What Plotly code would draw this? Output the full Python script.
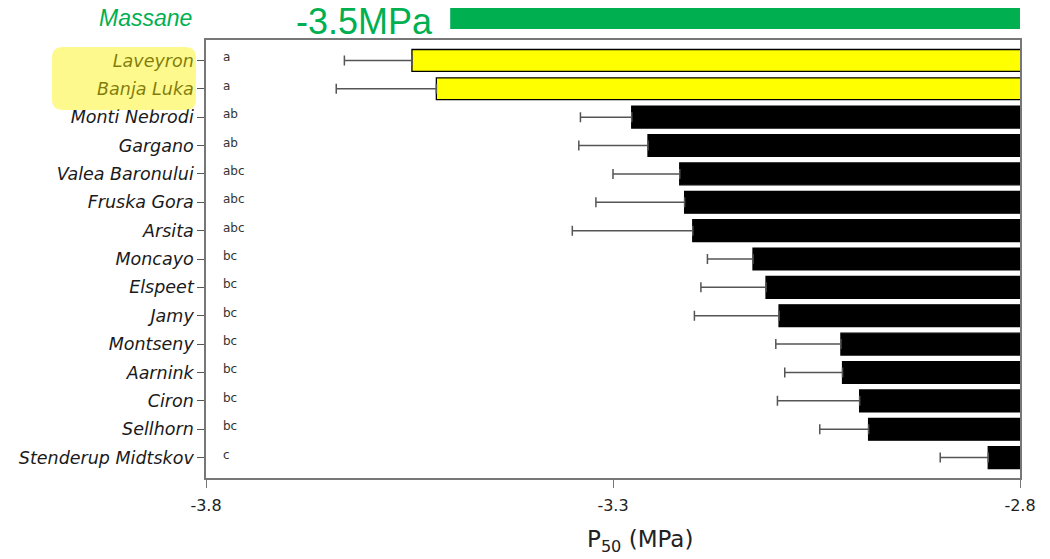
import plotly.graph_objects as go

# ---- data ----
populations = ["Laveyron", "Banja Luka", "Monti Nebrodi", "Gargano", "Valea Baronului",
               "Fruska Gora", "Arsita", "Moncayo", "Elspeet", "Jamy", "Montseny",
               "Aarnink", "Ciron", "Sellhorn", "Stenderup Midtskov"]
p50 = [-3.547, -3.517, -3.277, -3.257, -3.218, -3.212, -3.202, -3.128, -3.112,
       -3.096, -3.020, -3.018, -2.997, -2.986, -2.839]
p50_err = [0.083, 0.123, 0.063, 0.085, 0.082, 0.109, 0.148, 0.056, 0.080,
           0.104, 0.080, 0.071, 0.101, 0.060, 0.059]
groups = ["a", "a", "ab", "ab", "abc", "abc", "abc", "bc", "bc", "bc", "bc",
          "bc", "bc", "bc", "c"]
highlighted = ["Laveyron", "Banja Luka"]
massane_name = "Massane"
massane_p50 = -3.5
x_ticks = [-3.8, -3.3, -2.8]
x_ticklabels = ["-3.8", "-3.3", "-2.8"]

# ---- layout geometry (pixels) ----
W, H = 1050, 559
L, R, T, B = 206, 1020, 40, 478
pw, ph = R - L, B - T


def px(x):
    return (x - L) / pw


def py(y):
    return (B - y) / ph


colors = ["#FFFF00" if p in highlighted else "#000000" for p in populations]

fig = go.Figure()
fig.add_trace(go.Bar(
    y=populations, x=p50, orientation="h",
    marker=dict(color=colors, line=dict(color="#000000", width=1.3)),
    width=0.77,
    error_x=dict(type="data", symmetric=False, array=[0] * len(p50),
                 arrayminus=p50_err, color="#555555", thickness=1.5, width=5),
    showlegend=False,
))

annotations = []
for pop, g in zip(populations, groups):
    annotations.append(dict(x=-3.782, y=pop, xref="x", yref="y", text=g,
                            showarrow=False, xanchor="left", yanchor="middle",
                            yshift=3, font=dict(family="DejaVu Sans", size=12, color="#333333")))

annotations.append(dict(x=px(194), y=py(18), xref="paper", yref="paper",
                        text="<i>%s</i>" % massane_name, showarrow=False,
                        xanchor="right", yanchor="middle",
                        font=dict(family="Liberation Sans", size=23, color="#00B050")))
annotations.append(dict(x=px(434), y=py(0), xref="paper", yref="paper",
                        text="%sMPa" % massane_p50, showarrow=False,
                        xanchor="right", yanchor="top", borderpad=0,
                        font=dict(family="Liberation Sans", size=36, color="#00B050")))
annotations.append(dict(x=px(640), y=py(541), xref="paper", yref="paper",
                        text="P<sub>50</sub> (MPa)", showarrow=False,
                        xanchor="center", yanchor="middle",
                        font=dict(family="DejaVu Sans", size=23, color="#222222")))

# rounded highlight box over the highlighted labels
x0, x1, y0, y1, r = 52, 196, 47, 110, 11
path = (f"M {px(x0 + r)} {py(y0)} L {px(x1 - r)} {py(y0)} Q {px(x1)} {py(y0)} {px(x1)} {py(y0 + r)} "
        f"L {px(x1)} {py(y1 - r)} Q {px(x1)} {py(y1)} {px(x1 - r)} {py(y1)} "
        f"L {px(x0 + r)} {py(y1)} Q {px(x0)} {py(y1)} {px(x0)} {py(y1 - r)} "
        f"L {px(x0)} {py(y0 + r)} Q {px(x0)} {py(y0)} {px(x0 + r)} {py(y0)} Z")

shapes = [
    dict(type="path", path=path, xref="paper", yref="paper", layer="above",
         fillcolor="rgba(250,242,0,0.45)", line=dict(width=0)),
    dict(type="rect", xref="x", yref="paper", x0=massane_p50, x1=x_ticks[-1],
         y0=py(29), y1=py(8), fillcolor="#00B050", line=dict(width=0)),
]

fig.update_layout(
    width=W, height=H,
    margin=dict(l=L, r=W - R, t=T, b=H - B),
    paper_bgcolor="white", plot_bgcolor="white",
    annotations=annotations, shapes=shapes,
    bargap=0.2,
    xaxis=dict(range=[x_ticks[0], x_ticks[-1]], tickvals=x_ticks, ticktext=x_ticklabels,
               showgrid=False, zeroline=False, showline=True, mirror=True,
               linecolor="#777777", linewidth=1.5, ticks="outside", ticklen=8,
               tickcolor="#777777", tickwidth=1.2, ticklabelstandoff=4,
               tickfont=dict(family="DejaVu Sans", size=16, color="#222222")),
    yaxis=dict(type="category", categoryorder="array", categoryarray=populations,
               range=[len(populations) - 1 + 0.72, -0.72],
               showgrid=False, zeroline=False, showline=True, mirror=True,
               linecolor="#777777", linewidth=1.5, ticks="outside", ticklen=7,
               tickcolor="#555555", tickwidth=1.2,
               tickfont=dict(family="DejaVu Sans", size=17.5, color="#1a1a1a", style="italic")),
)

fig.write_html("out.html")
